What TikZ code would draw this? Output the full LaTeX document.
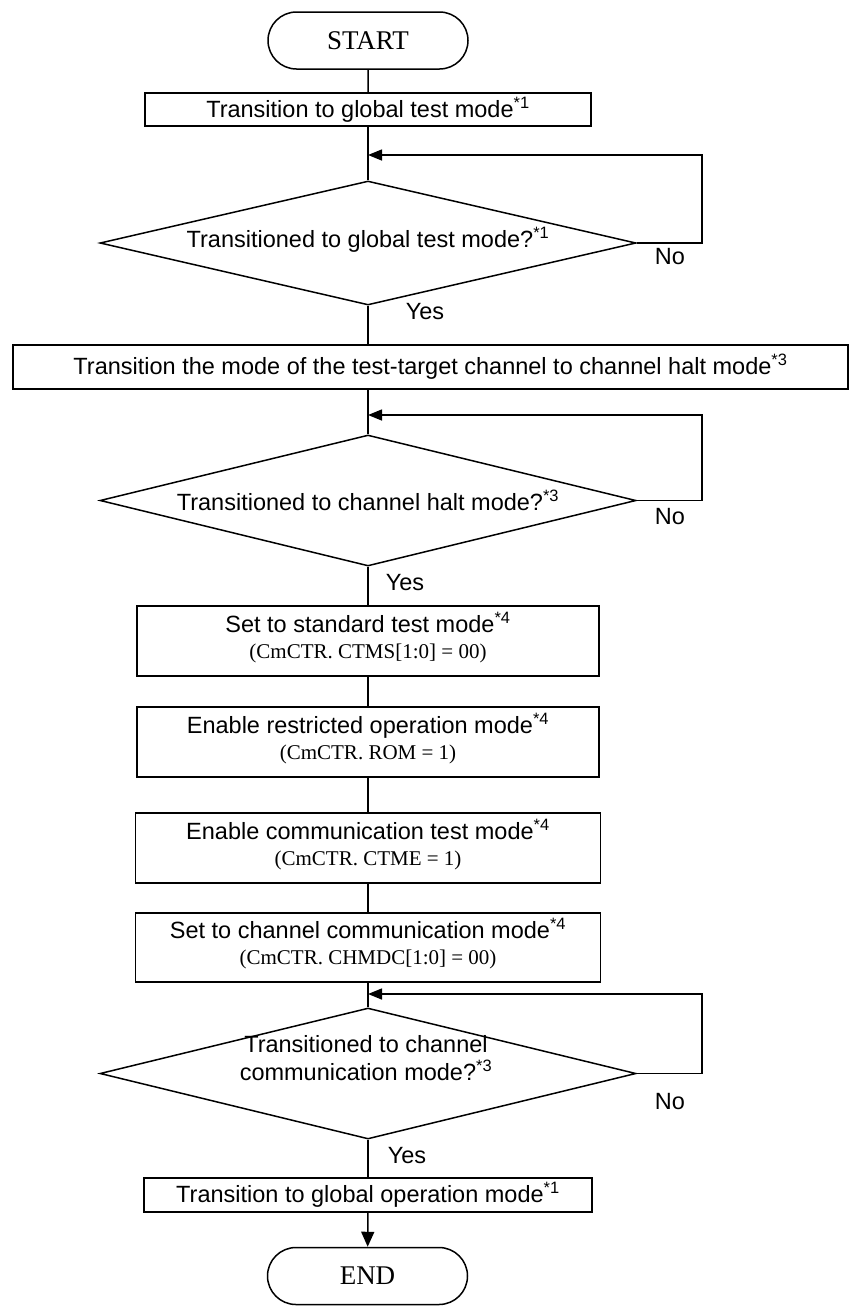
\documentclass[tikz,border=0pt]{standalone}
\usepackage{fontspec}
\setmainfont{Liberation Sans}
\newfontfamily\regfont{Liberation Serif}
\usetikzlibrary{arrows.meta,positioning,shapes.geometric,shapes.misc}

\tikzset{
  terminal/.style={draw, rounded rectangle, minimum width=200pt, minimum height=57pt,
    inner sep=0pt, font=\regfont\fontsize{27}{30}\selectfont},
  process/.style={draw, rectangle, inner sep=0pt, align=center,
    font=\fontsize{23.5}{26}\selectfont},
  decision/.style={draw, diamond, aspect=4.3, inner sep=0pt, minimum width=536pt},
  dtext/.style={align=center, inner sep=0pt, font=\fontsize{23.5}{28}\selectfont},
  yesno/.style={inner sep=0pt, font=\fontsize{23.5}{26}\selectfont},
  flow/.style={-{Triangle[length=14pt,width=11pt]}},
  endflow/.style={-{Triangle[length=15pt,width=13pt]}}
}
% register line under a step, in the serif face
\newcommand{\regline}[1]{{\regfont\fontsize{21}{24}\selectfont #1}\rule[-12pt]{0pt}{12pt}}

\begin{document}
\begin{tikzpicture}[x=1pt, y=-1pt, line width=1.5pt]
    \useasboundingbox (0,0) rectangle (853,1307);
    % start and global test mode
    \node[terminal] (start) at (368,40.5) {START};
    \node[process, minimum width=446pt, minimum height=33pt] (b1) at (368,109.5)
      {Transition to global test mode\textsuperscript{*1}};
    \coordinate (j1) at (368,155);
    \node[decision, minimum height=124pt] (d1) at (368,243) {};
    \node[dtext] (d1t) at (368,240) {Transitioned to global test mode?\textsuperscript{*1}};
    \node[yesno] (no1) at (670,257) {No};
    \node[yesno] (yes1) at (425,312) {Yes};
    % channel halt mode
    \node[process, minimum width=835pt, minimum height=44pt] (b2) at (430.5,367)
      {Transition the mode of the test-target channel to channel halt mode\textsuperscript{*3}};
    \coordinate (j2) at (368,415);
    \node[decision, minimum height=131pt] (d2) at (368,500.5) {};
    \node[dtext] (d2t) at (368,500) {Transitioned to channel halt mode?\textsuperscript{*3}};
    \node[yesno] (no2) at (670,517) {No};
    \node[yesno] (yes2) at (405,583) {Yes};
    % register settings
    \node[process, minimum width=462pt, minimum height=70pt] (b3) at (368,641)
      {Set to standard test mode\textsuperscript{*4}\\\regline{(CmCTR. CTMS[1:0] = 00)}};
    \node[process, minimum width=462pt, minimum height=70pt] (b4) at (368,742)
      {Enable restricted operation mode\textsuperscript{*4}\\\regline{(CmCTR. ROM = 1)}};
    \node[process, minimum width=465pt, minimum height=70pt] (b5) at (368,848)
      {Enable communication test mode\textsuperscript{*4}\\\regline{(CmCTR. CTME = 1)}};
    \node[process, minimum width=465pt, minimum height=69pt] (b6) at (368,947.5)
      {Set to channel communication mode\textsuperscript{*4}\\\regline{(CmCTR. CHMDC[1:0] = 00)}};
    % channel communication mode
    \coordinate (j3) at (368,994);
    \node[decision, minimum height=131pt] (d3) at (368,1073.5) {};
    \node[dtext] (d3t) at (366,1058) {Transitioned to channel\\communication mode?\textsuperscript{*3}};
    \node[yesno] (no3) at (670,1102) {No};
    \node[yesno] (yes3) at (407,1156) {Yes};
    \node[process, minimum width=448pt, minimum height=34pt] (b7) at (368,1195)
      {Transition to global operation mode\textsuperscript{*1}};
    \node[terminal] (end) at (367.5,1276) {END};
    % connectors
    \draw (start) -- (b1);
    \draw (b1) -- (d1);
    \draw[flow] (d1.east) -- ++(65,0) |- (j1);
    \draw (d1.south) -- (d1.south |- b2.north);
    \draw (d2.north |- b2.south) -- (d2.north);
    \draw[flow] (d2.east) -- ++(65,0) |- (j2);
    \draw (d2) -- (b3);
    \draw (b3) -- (b4);
    \draw (b4) -- (b5);
    \draw (b5) -- (b6);
    \draw (b6) -- (d3);
    \draw[flow] (d3.east) -- ++(65,0) |- (j3);
    \draw (d3) -- (b7);
    \draw[endflow] (b7) -- (end);
\end{tikzpicture}
\end{document}
